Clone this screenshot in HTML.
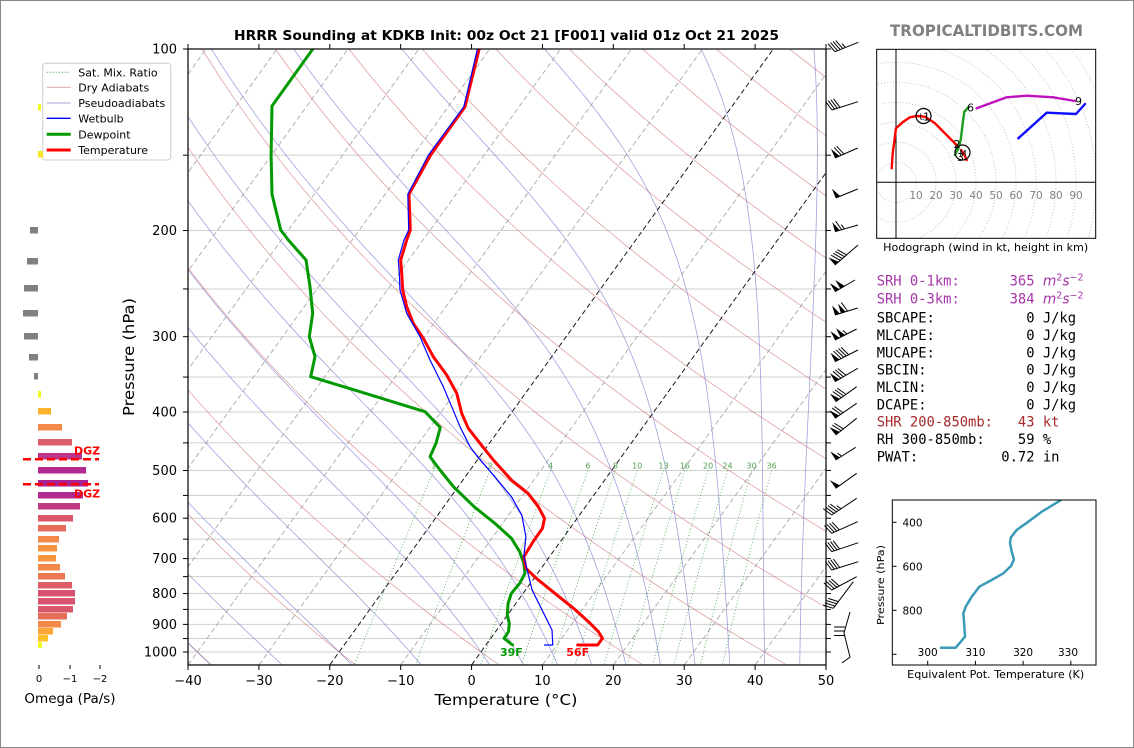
<!DOCTYPE html>
<html><head><meta charset="utf-8">
<style>
html,body{margin:0;padding:0;background:#fff;}
body{width:1134px;height:748px;overflow:hidden;position:relative;}
svg{position:absolute;left:0;top:0;}
text{font-family:"DejaVu Sans","Liberation Sans",sans-serif;}
.mono{font-family:"DejaVu Sans Mono","Liberation Mono",monospace;font-size:13.8px;white-space:pre;}
</style></head><body>
<svg width="1134" height="748" viewBox="0 0 1134 748" xml:space="preserve">
<rect x="0.5" y="0.5" width="1133" height="747" fill="#fff" stroke="#888"/>
<defs>
<clipPath id="cp"><rect x="188" y="49" width="638" height="616"/></clipPath>
<clipPath id="hc"><rect x="876.7" y="49.3" width="219" height="189"/></clipPath>
<clipPath id="ic"><rect x="892.3" y="500" width="203.7" height="165"/></clipPath>
</defs>

<!-- Title -->
<text x="506.5" y="40" text-anchor="middle" font-size="13" font-weight="bold" textLength="545" lengthAdjust="spacingAndGlyphs">HRRR Sounding at KDKB Init: 00z Oct 21 [F001] valid 01z Oct 21 2025</text>
<text x="986.5" y="36" text-anchor="middle" font-size="16" font-weight="bold" fill="#808080" textLength="193" lengthAdjust="spacingAndGlyphs">TROPICALTIDBITS.COM</text>

<!-- Skew-T background -->
<g id="bg" clip-path="url(#cp)"></g>

<!-- mixing ratio labels -->
<g font-size="8" fill="#4f9f4f" text-anchor="middle">
<text x="433.8" y="468.5">1</text><text x="490.1" y="468.5">2</text><text x="550.5" y="468.5">4</text>
<text x="587.9" y="468.5">6</text><text x="615.4" y="468.5">8</text><text x="637.2" y="468.5">10</text>
<text x="663.5" y="468.5">13</text><text x="684.8" y="468.5">16</text><text x="708.1" y="468.5">20</text>
<text x="727.5" y="468.5">24</text><text x="751.6" y="468.5">30</text><text x="771.6" y="468.5">36</text>
</g>

<!-- Series -->
<g clip-path="url(#cp)" fill="none" stroke-linejoin="round" stroke-linecap="round">
<polyline stroke="#009a00" stroke-width="3" points="312.6,49.3 272,106 271.1,155 272,194.3 280.7,230 288.3,240 306,260 310,286.7 312.7,313.3 309.3,336.7 315,356.7 310.7,376.7 360,391.7 425,411.7 440.3,427.5 436,443.3 430,456.7 440,470 453.4,486.7 474.1,506.7 494.8,523.3 511.4,538.3 519.7,551.7 523.8,563.3 525,573.3 519.7,583.3 511.4,593.3 508.1,603.3 507.3,615 509.3,623.3 508.5,631.7 504,638.3 512.6,645"/>
<polyline stroke="#ff0000" stroke-width="3" points="479.1,49.3 465,106.7 430.6,155 409,194.3 410.3,230 406.7,240 400.7,260 401.7,273.3 402.7,290 406.7,306.7 413.3,323.3 423.3,338.3 433.3,356.7 446.7,375 456.7,393.3 461.7,413.3 468.3,428.3 480,443.3 493.3,460 511.4,480 528,493.3 538.3,506.7 544.5,518.3 542.5,528.3 534.2,540 523.8,556.7 525.9,568.3 536.3,578.3 552.8,591.7 573.5,608.3 590.1,623.3 598.4,631.7 602.5,638.3 597.6,645 577.7,645"/>
<polyline stroke="#0000ff" stroke-width="1.2" points="477.4,49.3 463.8,106.7 428.5,155 407.8,194.3 408.7,230 404,240 398.3,260 399.3,273.3 400,290 406.7,313.3 420,336.7 430,360 443.3,386.7 451.7,406.7 460,426.7 470,446.7 477.4,456.7 494.8,476.7 511.4,496.7 521.8,515 525.9,536.7 523.8,556.7 528,573.3 532.1,590 540.4,606.7 552,630 552.8,645 544.5,645"/>
</g>
<text x="511.4" y="656" text-anchor="middle" font-size="11" font-weight="bold" fill="#009a00">39F</text>
<text x="577.7" y="656" text-anchor="middle" font-size="11" font-weight="bold" fill="#ff0000">56F</text>

<!-- Axes frame and ticks -->
<rect x="188" y="49" width="638" height="616" fill="none" stroke="#000" stroke-width="1.2"/>
<g id="ticks" stroke="#000" stroke-width="1"></g>

<!-- Y tick labels -->
<g font-size="13" text-anchor="end">
<text x="177" y="53.5">100</text><text x="177" y="235">200</text><text x="177" y="341.2">300</text>
<text x="177" y="416.5">400</text><text x="177" y="475">500</text><text x="177" y="522.7">600</text>
<text x="177" y="563.1">700</text><text x="177" y="598">800</text><text x="177" y="628.9">900</text>
<text x="177" y="656.5">1000</text>
</g>
<text transform="translate(134,357) rotate(-90)" text-anchor="middle" font-size="15" textLength="118" lengthAdjust="spacingAndGlyphs">Pressure (hPa)</text>
<!-- X tick labels -->
<g font-size="13" text-anchor="middle">
<text x="188" y="685">−40</text><text x="258.9" y="685">−30</text><text x="329.8" y="685">−20</text>
<text x="400.7" y="685">−10</text><text x="471.6" y="685">0</text><text x="542.4" y="685">10</text>
<text x="613.3" y="685">20</text><text x="684.2" y="685">30</text><text x="755.1" y="685">40</text>
<text x="826" y="685">50</text>
</g>
<text x="506" y="705" text-anchor="middle" font-size="15" textLength="143" lengthAdjust="spacingAndGlyphs">Temperature (°C)</text>

<!-- Legend -->
<rect x="42.7" y="63.3" width="128" height="96.7" rx="3" fill="#fff" fill-opacity="0.85" stroke="#cccccc"/>
<g fill="none">
<line x1="46.7" x2="70.7" y1="72.3" y2="72.3" stroke="#2e9a2e" stroke-width="1" stroke-dasharray="1,2"/>
<line x1="46.7" x2="70.7" y1="87.3" y2="87.3" stroke="#d9a3a3" stroke-width="1"/>
<line x1="46.7" x2="70.7" y1="103" y2="103" stroke="#a3a3d9" stroke-width="1"/>
<line x1="46.7" x2="70.7" y1="118.3" y2="118.3" stroke="#0000ff" stroke-width="1.3"/>
<line x1="46.7" x2="70.7" y1="134.3" y2="134.3" stroke="#009a00" stroke-width="3"/>
<line x1="46.7" x2="70.7" y1="150" y2="150" stroke="#ff0000" stroke-width="3"/>
</g>
<g font-size="11">
<text x="78.3" y="76.3">Sat. Mix. Ratio</text>
<text x="78.3" y="91.3">Dry Adiabats</text>
<text x="78.3" y="107">Pseudoadiabats</text>
<text x="78.3" y="122.3">Wetbulb</text>
<text x="78.3" y="138.3">Dewpoint</text>
<text x="78.3" y="154">Temperature</text>
</g>

<!-- Omega bars -->
<g>
<rect x="38" y="104" width="3" height="6.5" fill="#f0f921"/>
<rect x="38" y="151" width="5" height="6.5" fill="#f5e626"/>
<rect x="30" y="227" width="8" height="6.5" fill="#808080"/>
<rect x="27" y="258" width="11" height="6.5" fill="#808080"/>
<rect x="24" y="285" width="14" height="6.5" fill="#808080"/>
<rect x="23" y="310" width="15" height="6.5" fill="#808080"/>
<rect x="24" y="333" width="14" height="6.5" fill="#808080"/>
<rect x="29" y="354" width="9" height="6.5" fill="#808080"/>
<rect x="34" y="373" width="4" height="6.5" fill="#808080"/>
<rect x="38" y="391" width="3" height="6.5" fill="#f0f921"/>
<rect x="38" y="408" width="13" height="6.5" fill="#fdb32f"/>
<rect x="38" y="424" width="24" height="6.5" fill="#f48849"/>
<rect x="38" y="439" width="34" height="6.5" fill="#db5c68"/>
<rect x="38" y="453" width="44" height="6.5" fill="#bc3587"/>
<rect x="38" y="467" width="48" height="6.5" fill="#b12a90"/>
<rect x="38" y="480" width="50" height="6.5" fill="#a82296"/>
<rect x="38" y="492" width="45" height="6.5" fill="#b12a90"/>
<rect x="38" y="503" width="42" height="6.5" fill="#c03a83"/>
<rect x="38" y="515" width="35" height="6.5" fill="#d8576b"/>
<rect x="38" y="525" width="28" height="6.5" fill="#e66c5c"/>
<rect x="38" y="536" width="21" height="6.5" fill="#f48849"/>
<rect x="38" y="545" width="19" height="6.5" fill="#f89540"/>
<rect x="38" y="555" width="18" height="6.5" fill="#f89540"/>
<rect x="38" y="564" width="22" height="6.5" fill="#f48849"/>
<rect x="38" y="573" width="27" height="6.5" fill="#ec7853"/>
<rect x="38" y="582" width="34" height="6.5" fill="#dd5e66"/>
<rect x="38" y="590" width="37" height="6.5" fill="#d5536f"/>
<rect x="38" y="598" width="37" height="6.5" fill="#d5536f"/>
<rect x="38" y="606" width="35" height="6.5" fill="#d8576b"/>
<rect x="38" y="613" width="29" height="6.5" fill="#e76f5a"/>
<rect x="38" y="621" width="23" height="6.5" fill="#f48849"/>
<rect x="38" y="628" width="15" height="6.5" fill="#fca636"/>
<rect x="38" y="635" width="10" height="6.5" fill="#fec029"/>
<rect x="38" y="642" width="4" height="6" fill="#f0f921"/>
</g>
<g stroke="#ff0000" stroke-width="2.5" stroke-dasharray="8,4">
<line x1="23" x2="99" y1="459.3" y2="459.3"/>
<line x1="23" x2="99" y1="484.3" y2="484.3"/>
</g>
<g font-size="11" font-weight="bold" fill="#ff0000">
<text x="74" y="454.5">DGZ</text>
<text x="74" y="497.5">DGZ</text>
</g>
<g stroke="#000" stroke-width="1">
<line x1="39" x2="39" y1="665" y2="669"/><line x1="70" x2="70" y1="665" y2="669"/><line x1="100" x2="100" y1="665" y2="669"/>
</g>
<g font-size="10" text-anchor="middle">
<text x="39" y="682">0</text><text x="70" y="682">−1</text><text x="100" y="682">−2</text>
</g>
<text x="70" y="703" text-anchor="middle" font-size="13.5">Omega (Pa/s)</text>

<!-- Wind barbs -->
<g id="barbs"></g>
<g stroke="#000" stroke-width="1" fill="none">
<polyline points="850,612 844,633 850,657 842,663"/>
<line x1="834" y1="627" x2="845" y2="627"/><line x1="834" y1="631" x2="845" y2="631"/><line x1="834" y1="635.5" x2="845" y2="635.5"/>
</g>

<!-- Hodograph -->
<g id="hodo" clip-path="url(#hc)"></g>
<rect x="876.7" y="49.3" width="219" height="189" fill="none" stroke="#000" stroke-width="1"/>
<g font-size="10.5" fill="#808080" text-anchor="middle">
<text x="916" y="199">10</text><text x="936" y="199">20</text><text x="956" y="199">30</text>
<text x="976" y="199">40</text><text x="996" y="199">50</text><text x="1016" y="199">60</text>
<text x="1036" y="199">70</text><text x="1056" y="199">80</text><text x="1076" y="199">90</text>
</g>
<g font-size="11" fill="#000">
<text x="923" y="120.5">1</text>
<text x="953.5" y="148">2</text>
<text x="957" y="161">3</text>
<text x="967" y="111.5">6</text>
<text x="1075" y="105">9</text>
<text x="919.5" y="119.5" font-size="8">L</text>
<text x="959.5" y="156" font-size="8">M</text>
</g>
<text x="985.7" y="251" text-anchor="middle" font-size="10.5" textLength="205" lengthAdjust="spacingAndGlyphs">Hodograph (wind in kt, height in km)</text>

<!-- Text panel -->
<g class="mono">
<text class="mono" x="876.7" y="285.7" fill="#a535a8">SRH 0-1km:      365 <tspan font-family="DejaVu Sans" font-style="italic">m</tspan><tspan font-family="DejaVu Sans" font-size="9.5" dy="-5">2</tspan><tspan font-family="DejaVu Sans" font-style="italic" dy="5">s</tspan><tspan font-family="DejaVu Sans" font-size="9.5" dy="-5">−2</tspan></text>
<text class="mono" x="876.7" y="303.3" fill="#a535a8">SRH 0-3km:      384 <tspan font-family="DejaVu Sans" font-style="italic">m</tspan><tspan font-family="DejaVu Sans" font-size="9.5" dy="-5">2</tspan><tspan font-family="DejaVu Sans" font-style="italic" dy="5">s</tspan><tspan font-family="DejaVu Sans" font-size="9.5" dy="-5">−2</tspan></text>
<text class="mono" x="876.7" y="322.3">SBCAPE:           0 J/kg</text>
<text class="mono" x="876.7" y="340">MLCAPE:           0 J/kg</text>
<text class="mono" x="876.7" y="357.3">MUCAPE:           0 J/kg</text>
<text class="mono" x="876.7" y="374.7">SBCIN:            0 J/kg</text>
<text class="mono" x="876.7" y="392">MLCIN:            0 J/kg</text>
<text class="mono" x="876.7" y="409.3">DCAPE:            0 J/kg</text>
<text class="mono" x="876.7" y="426.7" fill="#a52a2a">SHR 200-850mb:   43 kt</text>
<text class="mono" x="876.7" y="444">RH 300-850mb:    59 %</text>
<text class="mono" x="876.7" y="461.7">PWAT:          0.72 in</text>
</g>

<!-- Theta-e inset -->
<polyline clip-path="url(#ic)" fill="none" stroke="#3a9bb6" stroke-width="2.5" stroke-linejoin="round" points="940,647.7 955.7,647.7 965,636.7 964,621.7 963.3,613.3 965.7,606.7 971.7,596.7 979.3,586.7 991.7,580 1003.3,573.3 1011,566 1014,559.3 1011.7,551.7 1010,543.3 1010.7,537.7 1016.7,530 1028.3,521.7 1041.7,511.7 1060,500.7 1062,499"/>
<rect x="892.3" y="500" width="203.7" height="165" fill="none" stroke="#000" stroke-width="1"/>
<g stroke="#000" stroke-width="1">
<line x1="892.3" x2="896.5" y1="522.3" y2="522.3"/><line x1="892.3" x2="896.5" y1="566.3" y2="566.3"/>
<line x1="892.3" x2="896.5" y1="610.3" y2="610.3"/><line x1="892.3" x2="896.5" y1="654.3" y2="654.3"/>
<line x1="927.7" x2="927.7" y1="665" y2="660.8"/><line x1="975.4" x2="975.4" y1="665" y2="660.8"/>
<line x1="1023.1" x2="1023.1" y1="665" y2="660.8"/><line x1="1070.8" x2="1070.8" y1="665" y2="660.8"/>
</g>
<g font-size="10.5" text-anchor="end">
<text x="922.5" y="526.3">400</text><text x="922.5" y="570.3">600</text><text x="922.5" y="614.3">800</text>
</g>
<g font-size="10.5" text-anchor="middle">
<text x="927.7" y="656">300</text><text x="975.4" y="656">310</text><text x="1023.1" y="656">320</text><text x="1068" y="656">330</text>
</g>
<text transform="translate(884,585) rotate(-90)" text-anchor="middle" font-size="10" textLength="80" lengthAdjust="spacingAndGlyphs">Pressure (hPa)</text>
<text x="995.7" y="678" text-anchor="middle" font-size="10.5" textLength="177" lengthAdjust="spacingAndGlyphs">Equivalent Pot. Temperature (K)</text>
</svg>
<script>
(function(){
var NS='http://www.w3.org/2000/svg';
function el(parent,tag,attrs){var e=document.createElementNS(NS,tag);for(var k in attrs)e.setAttribute(k,attrs[k]);parent.appendChild(e);return e;}
function Y(p){return 49+261.87*Math.log(p/100);}
function X(T,p){return 188+(T+40)*7.0889+0.72*(665-Y(p));}
function pl(parent,pts,attrs){attrs.points=pts.map(function(q){return q[0].toFixed(1)+','+q[1].toFixed(1);}).join(' ');attrs.fill='none';return el(parent,'polyline',attrs);}
var bg=document.getElementById('bg');
var p,T,i;
for(p=100;p<=1050;p+=50){var y=Y(p);el(bg,'line',{x1:188,x2:826,y1:y,y2:y,stroke:'#cfcfcf','stroke-width':1});}
// dry adiabats
for(var t0=-40;t0<=280;t0+=20){var pts=[];for(p=1050;p>=100;p-=10){T=(t0+273.15)*Math.pow(p/1000,0.2857)-273.15;pts.push([X(T,p),Y(p)]);}pl(bg,pts,{stroke:'#c86464','stroke-width':0.8,opacity:0.6});}
// moist adiabats
function dTdp(p,T){var Tc=T-273.15;var es=6.112*Math.exp(17.67*Tc/(Tc+243.5));var rs=0.622*es/(p-es);return (287.04*T+2.501e6*rs)/(1005.7+(2.501e6*2.501e6*rs*0.622)/(287.04*T*T))/p;}
function integ(T,p0,p1,n){var h=(p1-p0)/n;var out=[[p0,T]];var p=p0;for(var i=0;i<n;i++){var k1=dTdp(p,T),k2=dTdp(p+h/2,T+h/2*k1),k3=dTdp(p+h/2,T+h/2*k2),k4=dTdp(p+h,T+h*k3);T+=h/6*(k1+2*k2+2*k3+k4);p+=h;out.push([p,T]);}return out;}
var mt=[-40,-30,-20,-10,0,5,10,15,20,25,30,35,40,45,50];
mt.forEach(function(t0){var up=integ(t0+273.15,1000,100,180);var dn=integ(t0+273.15,1000,1050,10).reverse();var all=dn.concat(up.slice(1));pl(bg,all.map(function(q){return [X(q[1]-273.15,q[0]),Y(q[0])];}),{stroke:'#6464c8','stroke-width':0.8,opacity:0.6});});
// isotherms
for(T=-100;T<=50;T+=10){var blk=(T===0||T===-20);el(bg,'line',{x1:X(T,1050),y1:Y(1050),x2:X(T,100),y2:Y(100),stroke:blk?'#000':'#9a9a9a','stroke-width':blk?1:0.9,'stroke-dasharray':'5,3',opacity:blk?0.9:0.85});}
// mixing ratio
[1,2,4,6,8,10,13,16,20,24,30,36].forEach(function(w){var pts=[];for(var p=500;p<=1050;p+=10){var e=p*w/(622+w);var l=Math.log(e/6.112);var Td=243.5*l/(17.67-l);pts.push([X(Td,p),Y(p)]);}pl(bg,pts,{stroke:'#2e9a2e','stroke-width':0.9,'stroke-dasharray':'1,2.2',opacity:0.8});});
// ticks
var tk=document.getElementById('ticks');
for(p=100;p<=1000;p+=50){var yy=Y(p);el(tk,'line',{x1:183,x2:188,y1:yy,y2:yy});el(tk,'line',{x1:826,x2:831,y1:yy,y2:yy});}
for(T=-40;T<=50;T+=10){var xx=188+(T+40)*7.0889;el(tk,'line',{x1:xx,x2:xx,y1:665,y2:670});el(tk,'line',{x1:xx,x2:xx,y1:49,y2:44});}
// barbs
var bar=document.getElementById('barbs');
var B=[[835,51.7,858.3,42.3,0,4,1],[832,110,858,101.7,0,4,0],[835,158,857.7,148,1,2,0],[835.7,198,857.7,189,1,0,0],[835,231.7,858,225,1,1,1],[835,265,858,245,1,4,0],[835,291.7,855,280,2,0,0],[835,315,857.7,308,2,1,0],[835,340,856.7,329,2,0,1],[835,361.7,858,350,1,4,0],[835,381.7,857.7,368.3,1,3,0],[835.7,401.7,856.7,386.7,1,3,0],[835,418.3,856.7,403.3,1,2,0],[835.7,435,856.7,418.3,1,2,0],[835.7,460,855.7,447.3,1,0,1],[835.7,488.3,856.7,473.3,1,0,0],[831.7,515,856.7,498.3,0,4,1],[831.7,533.3,857.7,521.7,0,4,0],[831.7,551.7,858.3,542.7,0,4,0],[831.7,570,858.3,561.7,0,4,0],[831.7,590,856.7,576.7,0,4,0],[833.3,608.3,853.3,581.7,0,4,0]];
B.forEach(function(b){var ex=b[0],ey=b[1],lx=b[2],ly=b[3],nf=b[4],nb=b[5],nh=b[6];var dx=lx-ex,dy=ly-ey,L=Math.hypot(dx,dy);var tx=dx/L,ty=dy/L;var nx=ty,ny=-tx;
el(bar,'line',{x1:ex,y1:ey,x2:lx,y2:ly,stroke:'#000','stroke-width':1});
var d=0,h=10,fw=5,sp=2.8;
for(var i=0;i<nf;i++){var ax=ex+tx*d,ay=ey+ty*d,bx=ex+tx*(d+fw),by=ey+ty*(d+fw),cx=ax+nx*h,cy=ay+ny*h;el(bar,'polygon',{points:ax+','+ay+' '+bx+','+by+' '+cx+','+cy,fill:'#000'});d+=fw+1.2;}
if(nf>0&&(nb+nh)>0)d+=0.8;
for(i=0;i<nb;i++){var px=ex+tx*d,py=ey+ty*d;el(bar,'line',{x1:px,y1:py,x2:px+nx*h-tx*3.5,y2:py+ny*h-ty*3.5,stroke:'#000','stroke-width':1});d+=sp;}
for(i=0;i<nh;i++){if(nb===0&&nf===0)d+=sp;var qx=ex+tx*d,qy=ey+ty*d;el(bar,'line',{x1:qx,y1:qy,x2:qx+nx*h/2-tx*1.75,y2:qy+ny*h/2-ty*1.75,stroke:'#000','stroke-width':1});d+=sp;}
});
// hodograph
var ho=document.getElementById('hodo');
for(var r=10;r<=130;r+=10){el(ho,'circle',{cx:896,cy:182.3,r:r*2,fill:'none',stroke:'#b8b8b8','stroke-width':0.8,'stroke-dasharray':'1,2'});}
el(ho,'line',{x1:896,x2:896,y1:49,y2:239,stroke:'#000','stroke-width':1});
el(ho,'line',{x1:876,x2:1096,y1:182.3,y2:182.3,stroke:'#000','stroke-width':1});
function hp(pts,c){pl(ho,pts,{stroke:c,'stroke-width':2.4,'stroke-linejoin':'round','stroke-linecap':'round'});}
hp([[891.7,168.3],[892.7,153.3],[896,128.3],[903.3,121.7],[910,117.3],[916.7,116],[925,116.7],[935,123.3],[943.3,131.7],[953.3,141.7],[957,145.5]],'#ff0000');
hp([[961,150],[964,154],[966.7,160]],'#ff0000');
hp([[955,155],[958.3,148.3],[960.7,140],[962.7,123.3],[964.3,111.7],[968.3,107.3]],'#1f9a1f');
hp([[976.7,108.3],[988.3,104],[1006.7,97.3],[1026.7,95.7],[1053.3,97.3],[1075,101]],'#bf10bf');
hp([[1085,104],[1076,114],[1046.7,112.7],[1018.3,138.3]],'#1010ff');
el(ho,'circle',{cx:923.5,cy:116,r:7.5,fill:'none',stroke:'#000','stroke-width':1.2});
el(ho,'circle',{cx:962.5,cy:152.5,r:7.5,fill:'none',stroke:'#000','stroke-width':1.2});
})();
</script>
</body></html>
